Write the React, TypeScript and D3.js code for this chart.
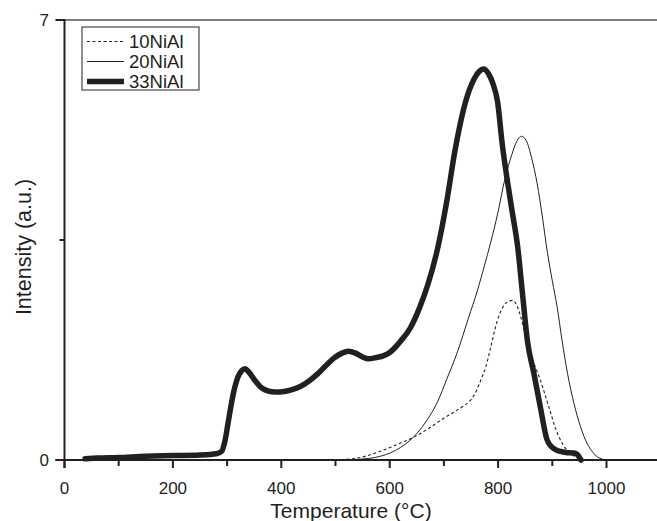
import React from "react";
import * as d3 from "d3";

const T10 = [500, 540, 583, 620, 648, 675, 699, 718, 736, 749, 760, 768, 778, 786, 798, 808, 818, 827, 835, 841, 850, 860, 870, 878, 888, 897, 906, 915, 925, 934, 945, 960];
const I10 = [0, 0.03, 0.14, 0.27, 0.38, 0.52, 0.66, 0.76, 0.86, 0.95, 1.1, 1.27, 1.5, 1.78, 2.2, 2.42, 2.52, 2.54, 2.45, 2.3, 2.0, 1.68, 1.45, 1.27, 1.0, 0.75, 0.5, 0.32, 0.18, 0.1, 0.04, 0];

const T20 = [500, 540, 583, 620, 651, 670, 688, 705, 725, 745, 762, 775, 786, 800, 812, 825, 835, 843, 852, 862, 872, 882, 891, 900, 909, 918, 928, 940, 952, 965, 975, 983, 1000];
const I20 = [0, 0.01, 0.06, 0.2, 0.43, 0.65, 0.92, 1.28, 1.72, 2.25, 2.7, 3.1, 3.45, 3.95, 4.45, 4.85, 5.08, 5.15, 5.08, 4.8, 4.4, 3.85, 3.3, 2.85, 2.43, 1.9, 1.38, 0.9, 0.53, 0.25, 0.12, 0.05, 0];

const T33 = [38, 60, 100, 150, 200, 250, 280, 290, 296, 302, 308, 314, 320, 327, 333, 340, 350, 362, 375, 389, 405, 420, 435, 450, 467, 482, 497, 512, 524, 537, 550, 560, 575, 589, 600, 610, 620, 638, 655, 670, 688, 705, 720, 740, 755, 765, 773, 782, 790, 799, 808, 817, 826, 836, 845, 854, 866, 878, 890, 900, 909, 925, 940, 946, 950, 953];
const I33 = [0.02, 0.03, 0.04, 0.06, 0.07, 0.08, 0.1, 0.14, 0.3, 0.6, 0.9, 1.15, 1.32, 1.42, 1.45, 1.4, 1.28, 1.16, 1.1, 1.08, 1.09, 1.12, 1.17, 1.25, 1.37, 1.5, 1.62, 1.7, 1.73, 1.7, 1.64, 1.61, 1.63, 1.66, 1.71, 1.79, 1.89, 2.1, 2.42, 2.78, 3.35, 4.1, 4.9, 5.7, 6.05, 6.18, 6.22, 6.15, 6.0, 5.7, 5.0, 4.45, 3.95, 3.4, 2.65, 1.9, 1.38, 0.84, 0.33, 0.2, 0.15, 0.12, 0.11, 0.09, 0.04, 0];

const SERIES = ["10NiAl", "20NiAl", "33NiAl"];
const X_TICKS = [0, 200, 400, 600, 800, 1000];
const X_MINOR = [100, 300, 500, 700, 900, 1100];
const Y_TICKS = [0, 7];
const Y_MINOR = [3.5];

const INK = "#231f20";
const FONT = "'Liberation Sans', Arial, sans-serif";

export default function App() {
  const W = 657, H = 521;
  const x = d3.scaleLinear().domain([0, 1000]).range([64.5, 606.5]);
  const y = d3.scaleLinear().domain([0, 7]).range([460, 20]);
  const line = d3
    .line<[number, number]>()
    .x((d) => x(d[0]))
    .y((d) => y(d[1]))
    .curve(d3.curveMonotoneX);

  const zip = (a: number[], b: number[]) => a.map((v, i) => [v, b[i]] as [number, number]);
  const data = [zip(T10, I10), zip(T20, I20), zip(T33, I33)];
  const styles = [
    { w: 1.1, dash: "3,2.5" },
    { w: 1, dash: undefined },
    { w: 5.5, dash: undefined },
  ];

  const x0 = x(0), y0 = y(0);
  return (
    <svg width={W} height={H} style={{ position: "absolute", left: 0, top: 0, background: "#fff" }}>
      <rect width={W} height={H} fill="#fff" />
      <line x1={x0} x2={W} y1={y(7)} y2={y(7)} stroke="#555" strokeWidth={1.5} />
      {data.map((d, i) => (
        <path
          key={SERIES[i]}
          d={line(d) || ""}
          fill="none"
          stroke={INK}
          strokeWidth={styles[i].w}
          strokeDasharray={styles[i].dash}
          strokeLinejoin="round"
          strokeLinecap={i === 2 ? "round" : "butt"}
        />
      ))}
      <line x1={x0} x2={x0} y1={y(7) - 1} y2={y0 + 8} stroke={INK} strokeWidth={2} />
      <line x1={x0 - 9} x2={W} y1={y0} y2={y0} stroke={INK} strokeWidth={2} />
      {X_TICKS.map((t) => (
        <g key={"xt" + t}>
          <line x1={x(t)} x2={x(t)} y1={y0} y2={y0 + 8} stroke={INK} strokeWidth={2} />
          <text x={x(t)} y={494} textAnchor="middle" fontSize={17} fontFamily={FONT} fill={INK}>
            {t}
          </text>
        </g>
      ))}
      {X_MINOR.map((t) => (
        <line key={"xm" + t} x1={x(t)} x2={x(t)} y1={y0} y2={y0 + 6} stroke={INK} strokeWidth={2} />
      ))}
      {Y_TICKS.map((t) => (
        <g key={"yt" + t}>
          <line x1={x0 - 9} x2={x0} y1={y(t)} y2={y(t)} stroke={INK} strokeWidth={2} />
          <text x={49} y={y(t) + 6} textAnchor="end" fontSize={17} fontFamily={FONT} fill={INK}>
            {t}
          </text>
        </g>
      ))}
      {Y_MINOR.map((t) => (
        <line key={"ym" + t} x1={x0 - 5} x2={x0} y1={y(t)} y2={y(t)} stroke={INK} strokeWidth={2} />
      ))}
      <text x={351} y={518} textAnchor="middle" fontSize={21} fontFamily={FONT} fill={INK}>
        Temperature (°C)
      </text>
      <text
        transform={`translate(31,${(y(0) + y(7)) / 2 + 7}) rotate(-90)`}
        textAnchor="middle"
        fontSize={21.5}
        fontFamily={FONT}
        fill={INK}
      >
        Intensity (a.u.)
      </text>
      <rect x={82} y={27} width={117} height={63} fill="#fff" stroke={INK} strokeWidth={1} />
      {SERIES.map((s, i) => {
        const ly = 41.5 + i * 20;
        return (
          <g key={"lg" + s}>
            <line x1={87} x2={124} y1={ly} y2={ly} stroke={INK} strokeWidth={styles[i].w} strokeDasharray={styles[i].dash} />
            <text x={129} y={ly + 6.5} fontSize={18.5} fontFamily={FONT} fill={INK}>
              {s}
            </text>
          </g>
        );
      })}
    </svg>
  );
}
